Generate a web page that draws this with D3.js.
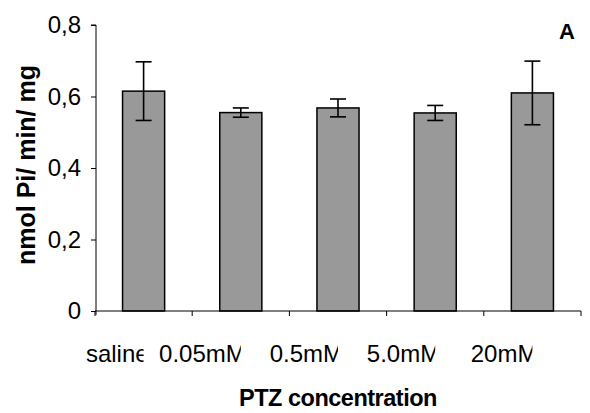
<!DOCTYPE html>
<html>
<head>
<meta charset="utf-8">
<script src="https://cdn.jsdelivr.net/npm/d3@7"></script>
<style>
  html, body { margin: 0; padding: 0; background: #fff; }
  svg { display: block; font-family: "Liberation Sans", Arial, sans-serif; }
</style>
</head>
<body>
<svg id="chart" width="590" height="413"></svg>
<script>
const categories = ["saline", "0.05mM", "0.5mM", "5.0mM", "20mM"];
const values = [0.615, 0.555, 0.568, 0.554, 0.610];
const errors = [0.082, 0.013, 0.025, 0.021, 0.089];
const yTicks = [0, 0.2, 0.4, 0.6, 0.8];
const yTitle = "nmol Pi/ min/ mg";
const xTitle = "PTZ concentration";
const panelLabel = "A";

const svg = d3.select("#chart");
const margin = { left: 96, right: 9, top: 25, bottom: 102 };
const W = 590, H = 413;
const x0 = margin.left - 1, x1 = W - margin.right;
const yBottom = H - margin.bottom, yTop = margin.top;

const pIn = 0.567;
const x = d3.scaleBand().domain(categories).range([x0, x1]).paddingInner(pIn).paddingOuter(pIn / 2);
const y = d3.scaleLinear().domain([0, 0.8]).range([yBottom, yTop]);
const step = x.step();

// bars
svg.append("g").selectAll("rect").data(categories).join("rect")
  .attr("x", d => x(d))
  .attr("y", (d, i) => y(values[i]))
  .attr("width", x.bandwidth())
  .attr("height", (d, i) => y(0) - y(values[i]))
  .attr("fill", "#999999")
  .attr("stroke", "#000")
  .attr("stroke-width", 1.5);

// error bars
const eg = svg.append("g").attr("stroke", "#000").attr("stroke-width", 1.6);
categories.forEach((c, i) => {
  const cx = x(c) + x.bandwidth() / 2;
  const hi = y(values[i] + errors[i]), lo = y(values[i] - errors[i]);
  eg.append("line").attr("x1", cx).attr("x2", cx).attr("y1", hi).attr("y2", lo);
  eg.append("line").attr("x1", cx - 8).attr("x2", cx + 8).attr("y1", hi).attr("y2", hi);
  eg.append("line").attr("x1", cx - 8).attr("x2", cx + 8).attr("y1", lo).attr("y2", lo);
});

// y axis
const yAxis = d3.axisLeft(y).tickValues(yTicks).tickSize(5).tickPadding(10)
  .tickFormat(d => d === 0 ? "0" : d3.format(".1f")(d).replace(".", ","));
const gy = svg.append("g").attr("transform", `translate(${margin.left},0)`).call(yAxis);
gy.attr("font-size", 24).attr("font-family", "'Liberation Sans', Arial, sans-serif");
gy.select(".domain").attr("d", `M-5,${yTop}H0V${yBottom + 4}`);
gy.selectAll("text").style("font-size", "24px").attr("fill", "#000");

// x axis line + ticks at band boundaries
const gx = svg.append("g");
gx.append("line").attr("x1", x0).attr("x2", x1).attr("y1", yBottom).attr("y2", yBottom)
  .attr("stroke", "#000").attr("stroke-width", 1);
d3.range(categories.length + 1).forEach(i => {
  const tx = x0 + i * step;
  gx.append("line").attr("x1", tx).attr("x2", tx).attr("y1", yBottom).attr("y2", yBottom + 5)
    .attr("stroke", "#000").attr("stroke-width", 1);
});

// x labels (clipped like the original)
const defs = svg.append("defs");
categories.forEach((c, i) => {
  const cx = x(c) + x.bandwidth() / 2;
  defs.append("clipPath").attr("id", "clip" + i)
    .append("rect").attr("x", cx - step).attr("y", yBottom + 15).attr("width", step).attr("height", 45);
  svg.append("text")
    .attr("clip-path", `url(#clip${i})`)
    .attr("x", cx + 5).attr("y", yBottom + 51)
    .attr("text-anchor", "end")
    .style("font-size", "24px")
    .attr("fill", "#000")
    .text(c);
});

// titles
svg.append("text")
  .attr("x", (x0 + x1) / 2).attr("y", 406)
  .attr("text-anchor", "middle").style("font-size", "23.5px").attr("font-weight", "bold")
  .attr("letter-spacing", -0.5)
  .text(xTitle);

svg.append("text")
  .attr("transform", `translate(35,${(yTop + yBottom) / 2 - 3}) rotate(-90)`)
  .attr("text-anchor", "middle").style("font-size", "25px").attr("font-weight", "bold")
  .text(yTitle);

svg.append("text")
  .attr("x", 567).attr("y", 38.5)
  .attr("text-anchor", "middle").style("font-size", "22px").attr("font-weight", "bold")
  .text(panelLabel);
</script>
</body>
</html>
